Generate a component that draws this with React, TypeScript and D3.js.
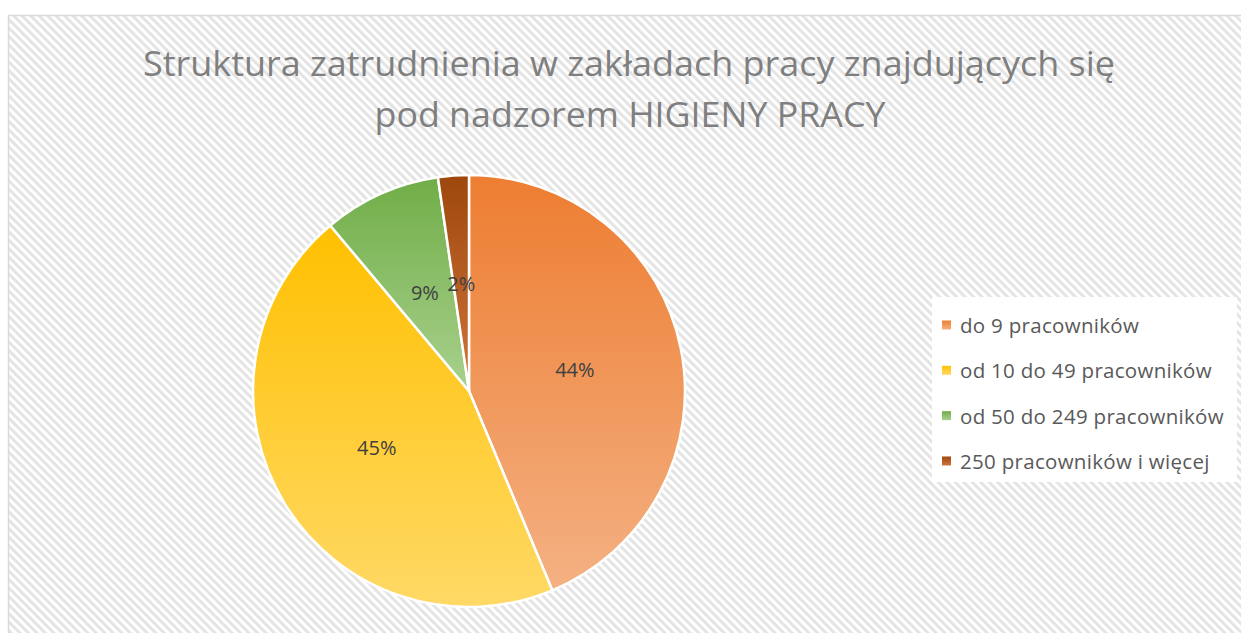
import * as d3 from 'd3';

// Dane wykresu
const kategorie = [
  'do 9 pracowników',
  'od 10 do 49 pracowników',
  'od 50 do 249 pracowników',
  '250 pracowników i więcej',
];
const udzialy = [43.7, 45.2, 8.8, 2.3];
const etykiety = ['44%', '45%', '9%', '2%'];
const tytul = [
  'Struktura zatrudnienia w zakładach pracy znajdujących się',
  'pod nadzorem HIGIENY PRACY',
];

// kolory: góra ciemniejsza, dół jaśniejszy
const koloryGora = ['#ED7D31', '#FFC000', '#70AD47', '#9E480E'];
const koloryDol = ['#F4B183', '#FFD966', '#A9D18E', '#D0743A'];

const W = 1241;
const H = 633;
const FONT = '"Open Sans", "DejaVu Sans", sans-serif';

export default function App() {
  const cx = 469;
  const cy = 391;
  const r = 216;

  const pie = d3.pie<number>().sort(null).value(d => d);
  const arcs = pie(udzialy);
  const arc = d3.arc<d3.PieArcDatum<number>>().innerRadius(0).outerRadius(r);

  const legendY = d3.scalePoint<string>()
    .domain(kategorie)
    .range([325, 461]);

  return (
    <svg
      width={W}
      height={H}
      style={{ position: 'absolute', left: 0, top: 0, background: '#fff' }}
    >
      <defs>
        <pattern id="kreski" width="6" height="6" patternUnits="userSpaceOnUse" patternTransform="rotate(45)">
          <rect width="6" height="6" fill="#ffffff" />
          <rect width="6" height="3" fill="#e4e4e4" />
        </pattern>
        {koloryGora.map((c, i) => (
          <linearGradient key={i} id={`grad${i}`} x1="0" y1="0" x2="0" y2="1">
            <stop offset="0%" stopColor={c} />
            <stop offset="100%" stopColor={koloryDol[i]} />
          </linearGradient>
        ))}
      </defs>

      {/* tło wykresu */}
      <rect x={8.5} y={15.5} width={1400} height={800} fill="url(#kreski)" stroke="#d9d9d9" strokeWidth={1.5} />

      {/* tytuł */}
      <text
        x={629}
        y={76}
        textAnchor="middle"
        fontFamily={FONT}
        fontSize={34}
        fill="#7f7f7f"
        textLength={972}
        lengthAdjust="spacingAndGlyphs"
      >
        {tytul[0]}
      </text>
      <text
        x={630}
        y={127}
        textAnchor="middle"
        fontFamily={FONT}
        fontSize={34}
        fill="#7f7f7f"
        textLength={511}
        lengthAdjust="spacingAndGlyphs"
      >
        {tytul[1]}
      </text>

      {/* wycinki */}
      <g transform={`translate(${cx},${cy})`}>
        {arcs.map((a, i) => (
          <path key={i} d={arc(a) || ''} fill={`url(#grad${i})`} stroke="#fff" strokeWidth={2.5} strokeLinejoin="round" />
        ))}
        {arcs.map((a, i) => {
          const [x, y] = arc.centroid(a);
          return (
            <text
              key={i}
              x={x}
              y={y}
              textAnchor="middle"
              dominantBaseline="central"
              fontFamily={FONT}
              fontSize={20}
              fill="#404040"
            >
              {etykiety[i]}
            </text>
          );
        })}
      </g>

      {/* legenda */}
      <rect x={932} y={297} width={305} height={185} fill="#fff" />
      {kategorie.map((k, i) => {
        const y = legendY(k) || 0;
        return (
          <g key={k}>
            <rect x={942} y={y - 4.5} width={9} height={9} fill={`url(#grad${i})`} />
            <text
              x={960}
              y={y}
              dominantBaseline="central"
              fontFamily={FONT}
              fontSize={20.5}
              letterSpacing={0.3}
              fill="#595959"
            >
              {k}
            </text>
          </g>
        );
      })}
    </svg>
  );
}
